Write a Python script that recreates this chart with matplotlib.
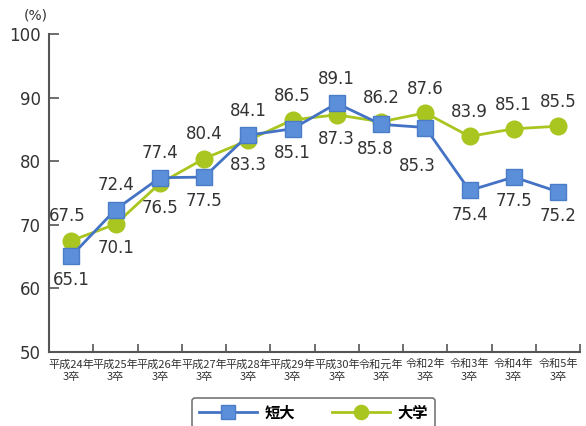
import matplotlib
matplotlib.use("Agg")
import matplotlib.pyplot as plt
import numpy as np

plt.rcParams['font.family'] = ['Noto Sans CJK JP', 'DejaVu Sans']

categories = ["平成24年\n3卒", "平成25年\n3卒", "平成26年\n3卒", "平成27年\n3卒",
              "平成28年\n3卒", "平成29年\n3卒", "平成30年\n3卒", "令和元年\n3卒",
              "令和2年\n3卒", "令和3年\n3卒", "令和4年\n3卒", "令和5年\n3卒"]
tanki = [65.1, 72.4, 77.4, 77.5, 84.1, 85.1, 89.1, 85.8, 85.3, 75.4, 77.5, 75.2]
daigaku = [67.5, 70.1, 76.5, 80.4, 83.3, 86.5, 87.3, 86.2, 87.6, 83.9, 85.1, 85.5]
series_names = ["短大", "大学"]

# label placement (style): (dx, dy) offsets in points
tanki_off = [(0, -11), (0, 11), (0, 11), (0, -11), (0, 11), (0, -11),
             (0, 11), (-4, -11), (-6, -21), (0, -11), (0, -11), (0, -11)]
daigaku_off = [(-3, 11), (0, -11), (0, -11), (0, 11), (0, -11), (0, 11),
               (0, -11), (0, 11), (0, 11), (0, 11), (0, 11), (0, 11)]

fig = plt.figure(figsize=(5.86, 4.26), dpi=100)
ax = fig.add_axes([0.084, 0.174, 0.906, 0.746])

x = np.arange(len(categories))
blue_line = "#4472c4"
blue_fill = "#5b8fd9"
green = "#a9c51f"

ax.plot(x, tanki, color=blue_line, lw=2, marker="s", ms=12,
        mfc=blue_fill, mec="#4a7cc8", mew=1, label=series_names[0], zorder=3)
ax.plot(x, daigaku, color=green, lw=2, marker="o", ms=12,
        mfc=green, mec=green, label=series_names[1], zorder=2)

txtc = "#333333"
for vals, offs in ((tanki, tanki_off), (daigaku, daigaku_off)):
    for xi, v, (dx, dy) in zip(x, vals, offs):
        ax.annotate(f"{v:.1f}", (xi, v), xytext=(dx, dy), textcoords="offset points",
                    ha="center", va="bottom" if dy > 0 else "top", fontsize=12, color=txtc,
                    family=['DejaVu Sans'])

ax.set_xlim(-0.5, 11.5)
ax.set_ylim(50, 100)
ax.set_yticks(np.arange(50, 101, 10))
ax.set_xticks(x)
ax.set_xticklabels(categories, fontsize=8, linespacing=1.3, color=txtc)
ax.set_xticks(np.arange(0.5, 11.6, 1), minor=True)
ax.tick_params(axis="x", which="major", length=0, pad=5)
ax.tick_params(axis="x", which="minor", direction="in", length=6, width=1.2, color="#555555")
ax.tick_params(axis="y", direction="in", length=7, width=1.2, color="#555555",
               labelsize=12, labelcolor=txtc, pad=6)
for lab in ax.get_yticklabels():
    lab.set_family(['DejaVu Sans'])

for s in ["top", "right"]:
    ax.spines[s].set_visible(False)
for s in ["left", "bottom"]:
    ax.spines[s].set_color("#555555")
    ax.spines[s].set_linewidth(1.5)

fig.text(0.04, 0.955, "(%)", fontsize=10, color=txtc, family=['DejaVu Sans'])

leg = fig.legend(loc="upper center", bbox_to_anchor=(0.535, 0.066), borderaxespad=0,
                 ncol=2, frameon=True, handlelength=3.8, columnspacing=2.4,
                 handletextpad=0.5, borderpad=0.45, fancybox=True, edgecolor="#555555",
                 markerscale=0.85,
                 prop={'family': ['Noto Sans CJK JP'], 'weight': 'bold', 'size': 11})
leg.get_frame().set_linewidth(1.2)

fig.savefig("out.png", dpi=100)
